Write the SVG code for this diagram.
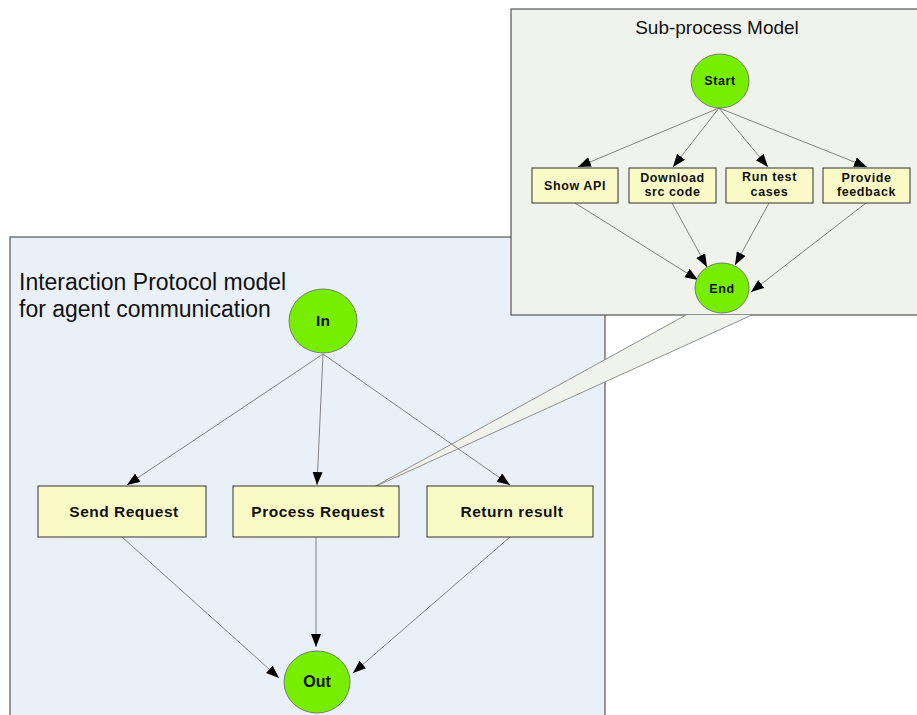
<svg xmlns="http://www.w3.org/2000/svg" width="917" height="715" viewBox="0 0 917 715">
<style>
.panel{stroke:#555;stroke-width:1.2}
.box{fill:#fafac6;stroke:#333;stroke-width:1}
.circ{fill:#77ee00;stroke:#666;stroke-width:0.8}
.lbl{font-family:"Liberation Sans",Arial,sans-serif;font-weight:bold;fill:#111;text-anchor:middle}
.small{font-size:12.5px;letter-spacing:0.6px}
.mid{font-size:15.5px;letter-spacing:0.5px}
.title{font-family:"Liberation Sans",Arial,sans-serif;fill:#111}
.edge{fill:none;stroke:#666;stroke-width:0.8}
</style>
<defs>
<marker id="arr" markerUnits="userSpaceOnUse" markerWidth="14" markerHeight="11" refX="13" refY="5" orient="auto">
<path d="M0,0 L13,5 L0,10 z" fill="#000"/>
</marker>
</defs>
<rect width="917" height="715" fill="#fff"/>
<g id="interaction-panel">
<rect class="panel" x="10" y="237" width="595" height="490" fill="#eaf0f8"/>
<text class="title" x="19" y="290" font-size="23">Interaction Protocol model</text>
<text class="title" x="19" y="317" font-size="23">for agent communication</text>
</g>
<g id="subprocess-panel">
<rect class="panel" x="511" y="9" width="410" height="306" fill="#f0f2ec"/>
<text class="title" x="717" y="34" font-size="19" text-anchor="middle">Sub-process Model</text>
</g>
<g id="callout">
<polygon points="372,488 686,315 752,315" fill="#f0f2ec" stroke="none"/>
<line x1="372" y1="488" x2="686" y2="315" stroke="#777" stroke-width="0.8"/>
<line x1="372" y1="488" x2="752" y2="315" stroke="#777" stroke-width="0.8"/>
</g>
<g id="connectors">
<line class="edge" x1="719" y1="108" x2="578" y2="167" marker-end="url(#arr)"/>
<line class="edge" x1="719" y1="108" x2="673" y2="167" marker-end="url(#arr)"/>
<line class="edge" x1="719" y1="108" x2="768" y2="167" marker-end="url(#arr)"/>
<line class="edge" x1="719" y1="108" x2="867" y2="167" marker-end="url(#arr)"/>
<line class="edge" x1="575" y1="203" x2="698" y2="280" marker-end="url(#arr)"/>
<line class="edge" x1="672" y1="203" x2="707" y2="267" marker-end="url(#arr)"/>
<line class="edge" x1="769" y1="203" x2="735" y2="265" marker-end="url(#arr)"/>
<line class="edge" x1="866" y1="203" x2="751" y2="292" marker-end="url(#arr)"/>
<line class="edge" x1="323" y1="354" x2="127" y2="485" marker-end="url(#arr)"/>
<line class="edge" x1="323" y1="354" x2="317" y2="485" marker-end="url(#arr)"/>
<line class="edge" x1="323" y1="354" x2="510" y2="485" marker-end="url(#arr)"/>
<line class="edge" x1="122" y1="537" x2="279" y2="678" marker-end="url(#arr)"/>
<line class="edge" x1="316" y1="537" x2="316" y2="647" marker-end="url(#arr)" stroke="#444" stroke-width="1.2"/>
<line class="edge" x1="510" y1="537" x2="353" y2="673" marker-end="url(#arr)"/>
</g>
<g id="start">
<ellipse class="circ" cx="720" cy="81" rx="29" ry="27"/>
<text class="lbl small" x="720" y="85">Start</text>
</g>
<g id="show-api">
<rect class="box" x="532" y="168" width="86" height="35"/>
<text class="lbl small" x="575" y="190">Show API</text>
</g>
<g id="download">
<rect class="box" x="629" y="168" width="87" height="35"/>
<text class="lbl small" x="672.5" y="182">Download</text>
<text class="lbl small" x="672.5" y="196">src code</text>
</g>
<g id="run-test">
<rect class="box" x="726" y="168" width="87" height="35"/>
<text class="lbl small" x="769.5" y="181">Run test</text>
<text class="lbl small" x="769.5" y="196">cases</text>
</g>
<g id="provide-feedback">
<rect class="box" x="823" y="168" width="87" height="35"/>
<text class="lbl small" x="866.5" y="182">Provide</text>
<text class="lbl small" x="866.5" y="196">feedback</text>
</g>
<g id="end">
<ellipse class="circ" cx="722" cy="288" rx="27" ry="25"/>
<text class="lbl small" x="722" y="293">End</text>
</g>
<g id="in">
<ellipse class="circ" cx="323" cy="321" rx="34" ry="32"/>
<text class="lbl" x="323" y="326" font-size="15.5">In</text>
</g>
<g id="send-request">
<rect class="box" x="38" y="486" width="168" height="51"/>
<text class="lbl mid" x="124" y="517">Send Request</text>
</g>
<g id="process-request">
<rect class="box" x="233" y="486" width="166" height="51"/>
<text class="lbl mid" x="318" y="517">Process Request</text>
</g>
<g id="return-result">
<rect class="box" x="427" y="486" width="166" height="51"/>
<text class="lbl mid" x="512" y="517">Return result</text>
</g>
<g id="out">
<ellipse class="circ" cx="317" cy="682" rx="33" ry="31"/>
<text class="lbl" x="317" y="687" font-size="16">Out</text>
</g>
</svg>
